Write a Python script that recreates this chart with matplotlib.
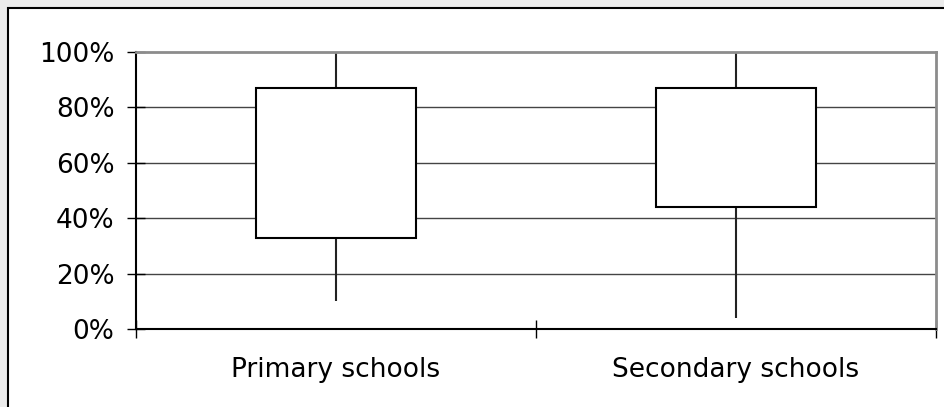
import matplotlib
matplotlib.use("Agg")
import matplotlib.pyplot as plt
from matplotlib.patches import Rectangle
from matplotlib.ticker import PercentFormatter

# --- Data ---
categories = ["Primary schools", "Secondary schools"]
low = [10, 4]
q1 = [33, 44]
q3 = [87, 87]
high = [100, 100]
y_ticks = [0, 20, 40, 60, 80, 100]

plt.rcParams["font.family"] = ["DejaVu Sans"]
plt.rcParams["font.size"] = 19

fig = plt.figure(figsize=(9.44, 4.07), dpi=100)
fig.patch.set_facecolor("#ebebeb")

# white panel with black frame (runs off the right/bottom edges)
W, H = 944, 407
fig.patches.append(Rectangle((8 / W, -0.05), 1.1, (H - 8) / H + 0.05,
                             transform=fig.transFigure, facecolor="white",
                             edgecolor="black", linewidth=1.5, zorder=-1))

ax = fig.add_axes([136 / W, (H - 329) / H, 800 / W, 277 / H])
ax.set_zorder(1)
ax.set_facecolor("white")

x = [i + 0.5 for i in range(len(categories))]

# gridlines
for t in y_ticks[1:-1]:
    ax.axhline(t, color="#444444", linewidth=1, zorder=1)

# whiskers (drawn under the boxes)
ax.vlines(x, low, high, color="#222222", linewidth=1.5, zorder=2)

# boxes
heights = [b - a for a, b in zip(q1, q3)]
ax.bar(x, heights, bottom=q1, width=0.4, facecolor="white",
       edgecolor="black", linewidth=1.5, zorder=3)

ax.set_xlim(0, 2)
ax.set_ylim(0, 100)
ax.set_yticks(y_ticks)
ax.yaxis.set_major_formatter(PercentFormatter(decimals=0))
ax.set_xticks([0, 1, 2])
ax.set_xticks(x, minor=True)
ax.set_xticklabels([])
ax.set_xticklabels(categories, minor=True)

ax.tick_params(axis="y", direction="inout", length=13, width=1, pad=9,
               color="black")
ax.tick_params(axis="x", which="major", direction="inout", length=13,
               width=1, color="black")
ax.tick_params(axis="x", which="minor", length=0, pad=20.5)

for side in ["left", "bottom"]:
    ax.spines[side].set_color("black")
    ax.spines[side].set_linewidth(1.5)
for side in ["top", "right"]:
    ax.spines[side].set_color("#8c8c8c")
    ax.spines[side].set_linewidth(2)

fig.savefig("out.png", dpi=100, facecolor=fig.get_facecolor())
